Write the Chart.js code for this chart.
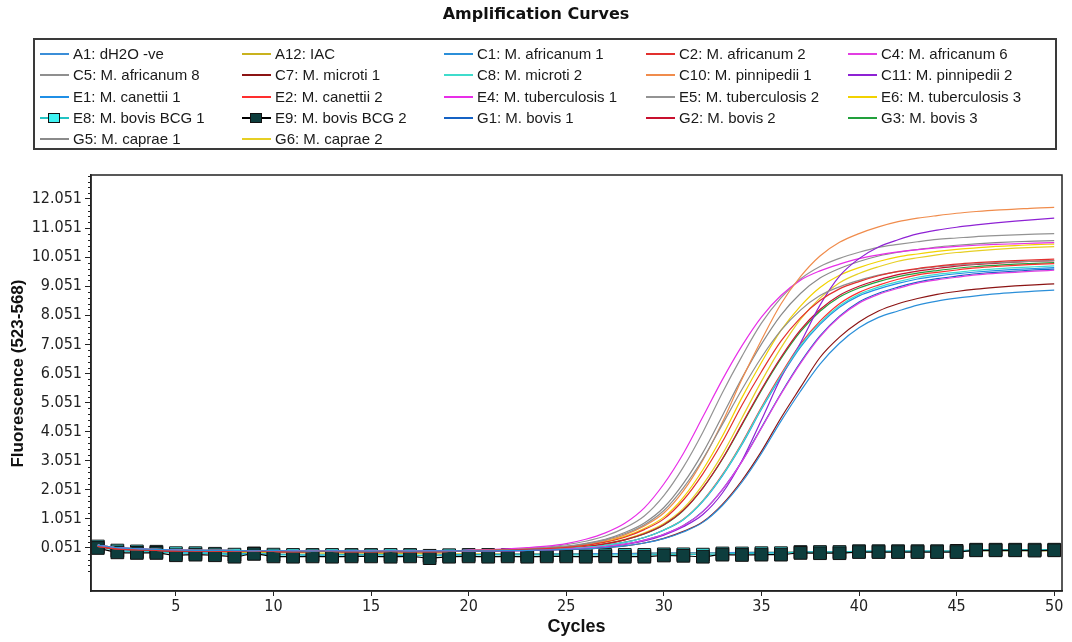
<!DOCTYPE html>
<html>
<head>
<meta charset="utf-8">
<title>Amplification Curves</title>
<script src="https://cdn.jsdelivr.net/npm/chart.js@4.4.1/dist/chart.umd.min.js"></script>
<style>
    html, body { margin: 0; padding: 0; background: #fff; }
    #wrap { position: relative; width: 1072px; height: 642px; overflow: hidden; }
    #chart { position: absolute; left: 0; top: 0; }
    #title {
        position: absolute; left: 0; top: 4px; width: 1072px; text-align: center;
        font: bold 16px "DejaVu Sans", sans-serif; color: #111;
    }
    #legend {
        position: absolute; left: 33px; top: 38px; width: 1020px; height: 108px;
        border: 2px solid #3a3a3a;
    }
    .item { position: absolute; height: 20px; white-space: nowrap; }
    .item .line { position: absolute; left: 0; top: 10px; width: 29px; height: 2px; }
    .item .mark { position: absolute; left: 8px; top: 6px; width: 10px; height: 8px; border: 1px solid #111; }
    .item .text {
        position: absolute; left: 33px; top: 2px;
        font: 15px "Liberation Sans", Arial, sans-serif; color: #1a1a1a;
    }
</style>
</head>
<body>
<div id="wrap">
    <canvas id="chart" width="1072" height="642"></canvas>
    <div id="title">Amplification Curves</div>
    <div id="legend"></div>
</div>
<script>
// ---- Data ---------------------------------------------------------------

const cycles = [1, 2, 3, 4, 5, 6, 7, 8, 9, 10, 11, 12, 13, 14, 15, 16, 17, 18, 19, 20,
    21, 22, 23, 24, 25, 26, 27, 28, 29, 30, 31, 32, 33, 34, 35, 36, 37, 38, 39, 40,
    41, 42, 43, 44, 45, 46, 47, 48, 49, 50];

const xTicks = [5, 10, 15, 20, 25, 30, 35, 40, 45, 50];
const yTicks = [0.051, 1.051, 2.051, 3.051, 4.051, 5.051, 6.051, 7.051, 8.051, 9.051, 10.051, 11.051, 12.051];

// negatives / controls
const a1 = [0.10, 0.00, -0.05, -0.08, -0.10, -0.12, -0.12, -0.15, -0.14, -0.16, -0.18, -0.20, -0.19, -0.17, -0.18, -0.19, -0.22, -0.20, -0.18, -0.18,
    -0.17, -0.17, -0.16, -0.16, -0.15, -0.15, -0.14, -0.14, -0.13, -0.12, -0.12, -0.12, -0.11, -0.10, -0.10, -0.10, -0.09, -0.08, -0.08, -0.07,
    -0.07, -0.06, -0.06, -0.06, -0.05, -0.05, -0.04, -0.04, -0.04, -0.03];
const a12 = [0.12, 0.02, -0.02, -0.05, -0.07, -0.08, -0.09, -0.10, -0.10, -0.11, -0.12, -0.12, -0.13, -0.13, -0.13, -0.14, -0.14, -0.15, -0.15, -0.15,
    -0.15, -0.15, -0.15, -0.15, -0.15, -0.14, -0.14, -0.14, -0.13, -0.13, -0.12, -0.12, -0.11, -0.11, -0.10, -0.10, -0.09, -0.09, -0.08, -0.08,
    -0.08, -0.07, -0.07, -0.06, -0.06, -0.06, -0.05, -0.05, -0.05, -0.05];
const e8 = [0.10, -0.04, -0.07, -0.08, -0.13, -0.13, -0.15, -0.18, -0.14, -0.18, -0.19, -0.19, -0.19, -0.19, -0.19, -0.19, -0.19, -0.22, -0.20, -0.19,
    -0.19, -0.19, -0.19, -0.19, -0.19, -0.19, -0.19, -0.19, -0.19, -0.17, -0.17, -0.18, -0.14, -0.14, -0.13, -0.13, -0.09, -0.09, -0.09, -0.06,
    -0.06, -0.06, -0.06, -0.06, -0.05, -0.01, -0.01, -0.01, -0.01, -0.01];
const e9 = [0.05, -0.10, -0.12, -0.12, -0.20, -0.18, -0.20, -0.25, -0.15, -0.24, -0.25, -0.24, -0.25, -0.24, -0.24, -0.25, -0.24, -0.30, -0.25, -0.24,
    -0.25, -0.24, -0.25, -0.24, -0.24, -0.25, -0.24, -0.25, -0.25, -0.21, -0.22, -0.25, -0.18, -0.19, -0.18, -0.18, -0.12, -0.13, -0.13, -0.09,
    -0.09, -0.09, -0.09, -0.09, -0.09, -0.03, -0.03, -0.03, -0.04, -0.03];

// amplifying samples
const c1 = [0.15, 0.06, 0.02, 0.00, -0.02, -0.03, -0.03, -0.04, -0.05, -0.04, -0.05, -0.06, -0.05, -0.05, -0.06, -0.05, -0.06, -0.05, -0.05,
    -0.05, -0.05, -0.04, -0.03, -0.02, 0.00, 0.02, 0.06, 0.12, 0.22, 0.37, 0.60, 0.93, 1.51, 2.31, 3.30, 4.41, 5.44, 6.37, 7.09, 7.62,
    7.98, 8.20, 8.40, 8.54, 8.64, 8.72, 8.79, 8.84, 8.88, 8.92];
const c2 = [0.10, 0.02, -0.01, -0.03, -0.05, -0.05, -0.06, -0.07, -0.06, -0.07, -0.08, -0.07, -0.07, -0.08, -0.08, -0.07, -0.08, -0.08, -0.07,
    -0.04, -0.03, -0.02, 0.00, 0.03, 0.07, 0.14, 0.25, 0.42, 0.68, 1.05, 1.70, 2.60, 3.70, 4.96, 6.11, 7.16, 7.96, 8.56, 8.96, 9.21,
    9.41, 9.56, 9.66, 9.74, 9.81, 9.86, 9.90, 9.93, 9.96, 9.98];
const c4 = [0.15, 0.06, 0.02, 0.00, -0.02, -0.03, -0.03, -0.04, -0.05, -0.04, -0.05, -0.06, -0.05, -0.05, -0.06, -0.05, -0.06, -0.05, -0.05,
    -0.05, -0.04, -0.04, -0.03, -0.01, 0.01, 0.05, 0.10, 0.18, 0.32, 0.52, 0.82, 1.30, 2.06, 3.02, 4.17, 5.34, 6.40, 7.31, 7.99, 8.47,
    8.77, 8.98, 9.16, 9.27, 9.36, 9.44, 9.49, 9.53, 9.57, 9.60];
const c5 = [0.12, 0.04, 0.01, -0.02, -0.03, -0.04, -0.05, -0.05, -0.04, -0.06, -0.06, -0.05, -0.06, -0.07, -0.06, -0.06, -0.07, -0.06, -0.06,
    -0.04, -0.03, -0.01, 0.01, 0.05, 0.10, 0.19, 0.33, 0.54, 0.85, 1.34, 2.12, 3.11, 4.30, 5.50, 6.60, 7.53, 8.23, 8.73, 9.03, 9.25,
    9.43, 9.55, 9.64, 9.72, 9.78, 9.82, 9.86, 9.89, 9.91, 9.93];
const c7 = [0.10, 0.02, -0.01, -0.03, -0.05, -0.05, -0.06, -0.07, -0.06, -0.07, -0.08, -0.07, -0.07, -0.08, -0.08, -0.07, -0.08, -0.08, -0.07,
    -0.05, -0.05, -0.04, -0.03, -0.02, 0.00, 0.02, 0.06, 0.12, 0.22, 0.38, 0.62, 0.95, 1.55, 2.37, 3.37, 4.52, 5.57, 6.60, 7.30, 7.82,
    8.20, 8.45, 8.63, 8.77, 8.87, 8.95, 9.01, 9.06, 9.10, 9.13];
const c8 = [0.15, 0.06, 0.02, 0.00, -0.02, -0.03, -0.03, -0.04, -0.05, -0.04, -0.05, -0.06, -0.05, -0.05, -0.06, -0.05, -0.06, -0.05, -0.05,
    -0.04, -0.04, -0.03, -0.02, 0.00, 0.03, 0.07, 0.14, 0.24, 0.41, 0.67, 1.03, 1.67, 2.55, 3.63, 4.85, 5.98, 7.01, 7.79, 8.38, 8.77,
    9.02, 9.21, 9.36, 9.46, 9.53, 9.60, 9.65, 9.69, 9.72, 9.75];
const c10 = [0.12, 0.04, 0.01, -0.02, -0.03, -0.04, -0.05, -0.05, -0.04, -0.06, -0.06, -0.05, -0.06, -0.07, -0.06, -0.06, -0.07, -0.06, -0.06,
    -0.04, -0.03, -0.01, 0.01, 0.04, 0.09, 0.17, 0.30, 0.50, 0.81, 1.25, 2.01, 3.07, 4.37, 5.85, 7.20, 8.44, 9.38, 10.09, 10.56, 10.86,
    11.09, 11.27, 11.39, 11.48, 11.56, 11.62, 11.67, 11.70, 11.74, 11.76];
const c11 = [0.12, 0.04, 0.01, -0.02, -0.03, -0.04, -0.05, -0.05, -0.04, -0.06, -0.06, -0.05, -0.06, -0.07, -0.06, -0.06, -0.07, -0.06, -0.06,
    -0.05, -0.05, -0.04, -0.03, -0.02, 0.01, 0.04, 0.09, 0.17, 0.29, 0.49, 0.78, 1.20, 1.94, 3.05, 4.45, 5.90, 7.10, 8.40, 9.40, 10.00,
    10.40, 10.65, 10.85, 10.98, 11.08, 11.16, 11.23, 11.29, 11.34, 11.39];
const e1 = [0.12, 0.04, 0.01, -0.02, -0.03, -0.04, -0.05, -0.05, -0.04, -0.06, -0.06, -0.05, -0.06, -0.07, -0.06, -0.06, -0.07, -0.06, -0.06,
    -0.04, -0.04, -0.03, -0.02, 0.00, 0.03, 0.07, 0.14, 0.24, 0.41, 0.66, 1.02, 1.65, 2.53, 3.60, 4.82, 5.94, 6.96, 7.74, 8.33, 8.72,
    8.96, 9.15, 9.30, 9.40, 9.48, 9.54, 9.59, 9.63, 9.66, 9.69];
const e2 = [0.10, 0.02, -0.01, -0.03, -0.05, -0.05, -0.06, -0.07, -0.06, -0.07, -0.08, -0.07, -0.07, -0.08, -0.08, -0.07, -0.08, -0.08, -0.07,
    -0.04, -0.04, -0.03, -0.02, 0.00, 0.03, 0.07, 0.14, 0.25, 0.41, 0.67, 1.04, 1.68, 2.57, 3.66, 4.89, 6.03, 7.06, 7.85, 8.45, 8.84,
    9.09, 9.29, 9.44, 9.53, 9.61, 9.68, 9.73, 9.77, 9.80, 9.83];
const e4 = [0.12, 0.04, 0.01, -0.02, -0.03, -0.04, -0.05, -0.05, -0.04, -0.06, -0.06, -0.05, -0.06, -0.07, -0.06, -0.06, -0.07, -0.06, -0.06,
    -0.02, -0.01, 0.02, 0.06, 0.11, 0.20, 0.35, 0.57, 0.90, 1.43, 2.25, 3.30, 4.56, 5.84, 7.00, 7.99, 8.73, 9.26, 9.58, 9.81, 10.00,
    10.13, 10.23, 10.31, 10.37, 10.42, 10.46, 10.49, 10.51, 10.53, 10.55];
const e5 = [0.15, 0.06, 0.02, 0.00, -0.02, -0.03, -0.03, -0.04, -0.05, -0.04, -0.05, -0.06, -0.05, -0.05, -0.06, -0.05, -0.06, -0.05, -0.05,
    -0.03, -0.02, 0.00, 0.04, 0.08, 0.16, 0.28, 0.46, 0.74, 1.15, 1.85, 2.83, 4.03, 5.39, 6.64, 7.78, 8.65, 9.30, 9.73, 10.01, 10.22,
    10.39, 10.49, 10.58, 10.66, 10.71, 10.76, 10.79, 10.82, 10.84, 10.86];
const e6 = [0.15, 0.06, 0.02, 0.00, -0.02, -0.03, -0.03, -0.04, -0.05, -0.04, -0.05, -0.06, -0.05, -0.05, -0.06, -0.05, -0.06, -0.05, -0.05,
    -0.04, -0.03, -0.02, 0.00, 0.03, 0.08, 0.15, 0.27, 0.45, 0.72, 1.11, 1.79, 2.74, 3.90, 5.22, 6.43, 7.53, 8.37, 9.01, 9.43, 9.69,
    9.90, 10.06, 10.16, 10.25, 10.32, 10.37, 10.42, 10.45, 10.48, 10.50];
const g1 = [0.10, 0.02, -0.01, -0.03, -0.05, -0.05, -0.06, -0.07, -0.06, -0.07, -0.08, -0.07, -0.07, -0.08, -0.08, -0.07, -0.08, -0.08, -0.07,
    -0.05, -0.04, -0.04, -0.03, -0.01, 0.01, 0.05, 0.10, 0.18, 0.32, 0.52, 0.82, 1.31, 2.06, 3.03, 4.19, 5.36, 6.43, 7.34, 8.02, 8.51,
    8.81, 9.02, 9.19, 9.31, 9.40, 9.48, 9.53, 9.57, 9.61, 9.64];
const g2 = [0.15, 0.06, 0.02, 0.00, -0.02, -0.03, -0.03, -0.04, -0.05, -0.04, -0.05, -0.06, -0.05, -0.05, -0.06, -0.05, -0.06, -0.05, -0.05,
    -0.04, -0.04, -0.03, -0.01, 0.01, 0.05, 0.10, 0.19, 0.33, 0.54, 0.85, 1.35, 2.12, 3.12, 4.31, 5.51, 6.61, 7.55, 8.25, 8.74, 9.05,
    9.27, 9.45, 9.57, 9.66, 9.74, 9.80, 9.84, 9.88, 9.91, 9.93];
const g3 = [0.12, 0.04, 0.01, -0.02, -0.03, -0.04, -0.05, -0.05, -0.04, -0.06, -0.06, -0.05, -0.06, -0.07, -0.06, -0.06, -0.07, -0.06, -0.06,
    -0.04, -0.04, -0.03, -0.01, 0.01, 0.05, 0.10, 0.19, 0.33, 0.53, 0.84, 1.34, 2.11, 3.10, 4.28, 5.47, 6.56, 7.49, 8.19, 8.68, 8.99,
    9.21, 9.38, 9.50, 9.59, 9.67, 9.73, 9.77, 9.81, 9.84, 9.86];
const g5 = [0.10, 0.02, -0.01, -0.03, -0.05, -0.05, -0.06, -0.07, -0.06, -0.07, -0.08, -0.07, -0.07, -0.08, -0.08, -0.07, -0.08, -0.08, -0.07,
    -0.03, -0.02, -0.01, 0.02, 0.06, 0.11, 0.21, 0.35, 0.58, 0.91, 1.44, 2.27, 3.33, 4.60, 5.89, 7.06, 8.06, 8.80, 9.33, 9.66, 9.90,
    10.09, 10.22, 10.31, 10.40, 10.46, 10.51, 10.55, 10.58, 10.60, 10.62];
const g6 = [0.10, 0.02, -0.01, -0.03, -0.05, -0.05, -0.06, -0.07, -0.06, -0.07, -0.08, -0.07, -0.07, -0.08, -0.08, -0.07, -0.08, -0.08, -0.07,
    -0.04, -0.03, -0.02, -0.01, 0.02, 0.05, 0.11, 0.20, 0.35, 0.57, 0.89, 1.41, 2.23, 3.27, 4.52, 5.78, 6.93, 7.91, 8.64, 9.17, 9.49,
    9.72, 9.91, 10.03, 10.13, 10.21, 10.27, 10.32, 10.36, 10.39, 10.41];

// legend order (row by row, 5 per row)
const sampleNames = [
    'A1: dH2O -ve', 'A12: IAC', 'C1: M. africanum 1', 'C2: M. africanum 2', 'C4: M. africanum 6',
    'C5: M. africanum 8', 'C7: M. microti 1', 'C8: M. microti 2', 'C10: M. pinnipedii 1', 'C11: M. pinnipedii 2',
    'E1: M. canettii 1', 'E2: M. canettii 2', 'E4: M. tuberculosis 1', 'E5: M. tuberculosis 2', 'E6: M. tuberculosis 3',
    'E8: M. bovis BCG 1', 'E9: M. bovis BCG 2', 'G1: M. bovis 1', 'G2: M. bovis 2', 'G3: M. bovis 3',
    'G5: M. caprae 1', 'G6: M. caprae 2',
];
const sampleValues = [a1, a12, c1, c2, c4, c5, c7, c8, c10, c11, e1, e2, e4, e5, e6, e8, e9, g1, g2, g3, g5, g6];

// ---- Styles -------------------------------------------------------------

const lineColors = [
    '#3b8ed8', '#c9b21e', '#2b8fd9', '#e2302e', '#e23ee2',
    '#8f8f8f', '#8c1414', '#3fdccc', '#f08c4c', '#8e22d4',
    '#1f8fe6', '#ff2e2e', '#e82ee8', '#939393', '#f2d200',
    '#22c4c4', '#000000', '#1562c4', '#c8102e', '#22a03c',
    '#8a8a8a', '#e6cf24',
];
const markerFill = { 15: '#3ff2f2', 16: '#0d3d3d' };
const flatIdx = [0, 1];

const tickFont = { family: '"Liberation Sans Narrow", "DejaVu Sans Condensed", "Arial Narrow", sans-serif', size: 16 };
const titleFont = { family: '"Liberation Sans", Arial, sans-serif', weight: 'bold' };

// ---- Legend (HTML) ------------------------------------------------------

function buildLegend() {
    const box = document.getElementById('legend');
    sampleNames.forEach((name, i) => {
        const col = i % 5, row = Math.floor(i / 5);
        const item = document.createElement('div');
        item.className = 'item';
        item.style.left = (5 + col * 202) + 'px';
        item.style.top = Math.round(3 + row * 21.3) + 'px';

        const line = document.createElement('div');
        line.className = 'line';
        line.style.background = lineColors[i];
        item.appendChild(line);

        if (markerFill[i]) {
            const mark = document.createElement('div');
            mark.className = 'mark';
            mark.style.background = markerFill[i];
            item.appendChild(mark);
        }

        const text = document.createElement('div');
        text.className = 'text';
        text.textContent = name;
        item.appendChild(text);
        box.appendChild(item);
    });
}

// ---- Chart --------------------------------------------------------------

// frame round the plot area + minor ticks on the fluorescence axis
const framePlugin = {
    id: 'frame',
    afterDraw(chart) {
        const { ctx, chartArea: a, scales: { y } } = chart;
        ctx.save();
        ctx.strokeStyle = '#222';
        ctx.lineWidth = 1.5;
        ctx.strokeRect(a.left, a.top, a.right - a.left, a.bottom - a.top);
        ctx.lineWidth = 1;
        ctx.beginPath();
        for (const major of yTicks) {
            for (let k = -4; k <= 4; k++) {
                const v = major + k * 0.2;
                if (k === 0 || v < y.min || v > y.max) continue;
                const py = Math.round(y.getPixelForValue(v)) + 0.5;
                ctx.moveTo(a.left - 3, py);
                ctx.lineTo(a.left, py);
            }
        }
        ctx.stroke();
        ctx.restore();
    },
};

function buildChart() {
    const datasets = sampleValues.map((vals, i) => {
        const ds = {
            label: sampleNames[i],
            data: cycles.map((c, j) => ({ x: c, y: vals[j] })),
            borderColor: lineColors[i],
            borderWidth: 1.2,
            pointRadius: 0,
            cubicInterpolationMode: 'monotone',
            order: flatIdx.includes(i) ? 3 : 0,
        };
        if (markerFill[i]) {
            Object.assign(ds, {
                pointStyle: 'rect',
                pointRadius: 9,
                pointBackgroundColor: markerFill[i],
                pointBorderColor: '#111',
                pointBorderWidth: 1,
                order: i === 16 ? 1 : 2,
            });
        }
        return ds;
    });

    new Chart(document.getElementById('chart'), {
        type: 'line',
        data: { datasets },
        plugins: [framePlugin],
        options: {
            responsive: false,
            animation: false,
            layout: { padding: { top: 175, right: 10, bottom: 0, left: 0 } },
            plugins: { legend: { display: false }, tooltip: { enabled: false } },
            scales: {
                x: {
                    type: 'linear',
                    min: 0.65,
                    max: 50.4,
                    afterBuildTicks: (s) => { s.ticks = xTicks.map(v => ({ value: v })); },
                    afterFit: (s) => { s.height = 51; },
                    grid: { drawOnChartArea: false, tickLength: 5, color: '#222' },
                    border: { color: '#222', width: 1.5 },
                    ticks: { font: tickFont, color: '#222', padding: 1, maxRotation: 0, autoSkip: false },
                    title: {
                        display: true, text: 'Cycles', color: '#111',
                        font: { ...titleFont, size: 18 }, padding: { top: 0, bottom: 4 },
                    },
                },
                y: {
                    min: -1.43,
                    max: 12.876,
                    afterBuildTicks: (s) => { s.ticks = yTicks.map(v => ({ value: v })); },
                    afterFit: (s) => { s.width = 91; },
                    grid: { drawOnChartArea: false, tickLength: 6, color: '#222' },
                    border: { color: '#222', width: 1.5 },
                    ticks: {
                        font: tickFont, color: '#222', padding: 3, autoSkip: false,
                        callback: (v) => Number(v).toFixed(3),
                    },
                    title: {
                        // leading spaces nudge the rotated title a little towards the top, as in the original
                        display: true, text: '    Fluorescence (523-568)', color: '#111',
                        font: { ...titleFont, size: 17 }, padding: { top: 8, bottom: 0 },
                    },
                },
            },
        },
    });
}

buildLegend();
buildChart();
</script>
</body>
</html>
